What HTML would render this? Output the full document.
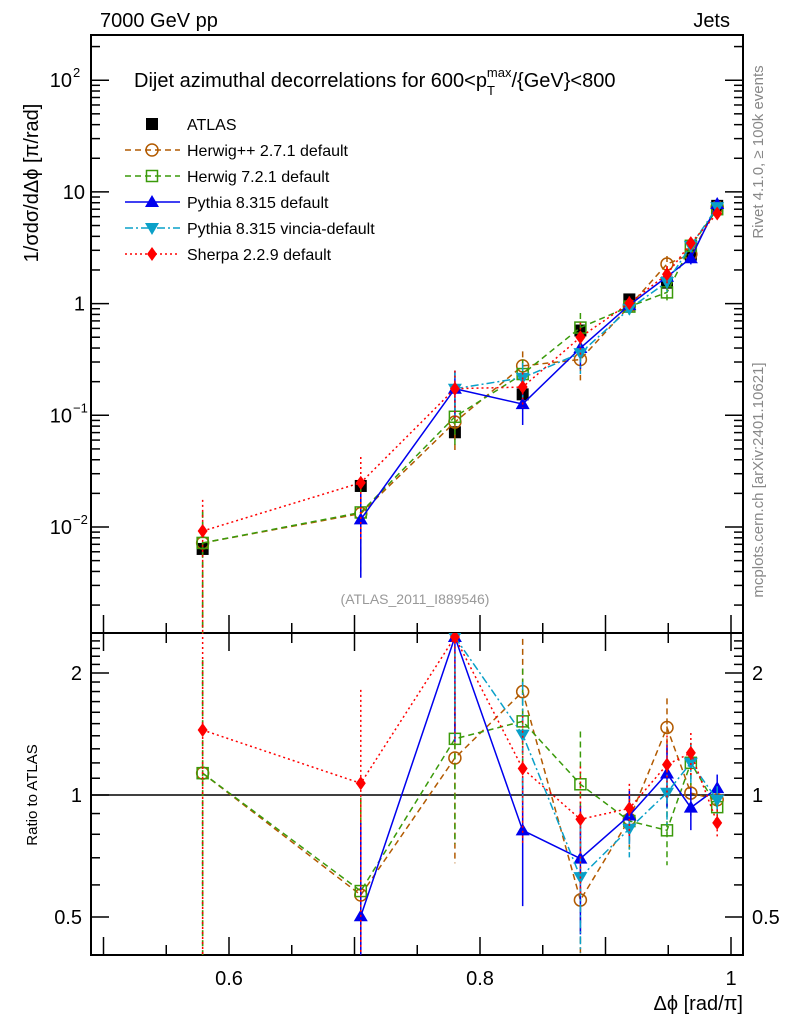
<!DOCTYPE html>
<html><head><meta charset="utf-8"><style>
html,body{margin:0;padding:0;background:#fff;overflow:hidden;width:786px;height:1024px;}
svg{display:block;overflow:hidden;font-family:"Liberation Sans",sans-serif;}
</style></head><body>
<svg id="c" width="786" height="1024" xmlns="http://www.w3.org/2000/svg"></svg>
<script>
const xs=[0.579,0.705,0.780,0.834,0.880,0.919,0.949,0.968,0.989];
const atlas=[0.00636,0.0233,0.0705,0.154,0.574,1.09,1.54,2.74,7.5];
const herwigpp=[0.0072,0.0132,0.087,0.277,0.316,0.95,2.26,2.77,7.3];
const herwig7=[0.0072,0.0135,0.097,0.234,0.61,0.94,1.26,3.29,7.0];
const pythia=[null,0.0117,0.173,0.126,0.40,0.97,1.74,2.55,7.8];
const vincia=[null,null,0.173,0.217,0.36,0.90,1.56,3.29,7.3];
const sherpa=[0.0092,0.0249,0.173,0.179,0.50,1.01,1.83,3.48,6.4];
const mcErr=[0.9,0.7,0.45,0.35,0.35,0.15,0.18,0.12,0.08];
const xTicks=[0.6,0.8,1];
const xTickLabels=["0.6","0.8","1"];
const ratioTicks=[0.5,1,2];
const ratioTickLabels=["0.5","1","2"];

const L=91,R=743,T=35,MB=633,RB=955;
const sx=v=>229+(v-0.6)*1255;
const syM=v=>527-(Math.log10(v)+2)*111.7;
const syR=v=>795-Math.log2(v)*122;
const svg=document.getElementById('c');
const NS='http://www.w3.org/2000/svg';
function mk(t,a,p){const e=document.createElementNS(NS,t);for(const k in a)e.setAttribute(k,a[k]);(p||svg).appendChild(e);return e;}
function txt(s,x,y,o){const e=mk('text',Object.assign({x:x,y:y,'font-size':20},o||{}));e.textContent=s;return e;}

const fm=mk('rect',{x:L,y:T,width:R-L,height:MB-T,fill:'none',stroke:'#000','stroke-width':2});

const fr=mk('rect',{x:L,y:MB,width:R-L,height:RB-MB,fill:'none',stroke:'#000','stroke-width':2});


for(let v=0.5;v<=1.001;v+=0.05){const px=sx(v);if(px<L||px>R)continue;
 const maj=Math.abs(v*10-Math.round(v*10))<1e-6;const h=maj?18:10;
 mk('line',{x1:px,x2:px,y1:RB,y2:RB-h,stroke:'#000','stroke-width':1.5});
 mk('line',{x1:px,x2:px,y1:MB,y2:MB-h,stroke:'#000','stroke-width':1.5});
 mk('line',{x1:px,x2:px,y1:MB,y2:MB+h,stroke:'#000','stroke-width':1.5});}
xTicks.forEach((v,i)=>{const t=txt(xTickLabels[i],sx(v),985,{'text-anchor':'middle'});
 });

for(let d=-3;d<=2;d++){for(let m=1;m<10;m++){const v=m*Math.pow(10,d);const py=syM(v);if(py<T||py>MB)continue;
 const h=m==1?18:9;
 mk('line',{x1:L,x2:L+h,y1:py,y2:py,stroke:'#000','stroke-width':1.5});
 mk('line',{x1:R,x2:R-h,y1:py,y2:py,stroke:'#000','stroke-width':1.5});}}
const ylab=[[2,'10','2'],[1,'10',''],[0,'1',''],[-1,'10','−1'],[-2,'10','−2']];
ylab.forEach(a=>{const py=syM(Math.pow(10,a[0]));
 const g=mk('text',{x:a[2]?72:85,y:py+7,'text-anchor':'end','font-size':20});g.textContent=a[1];
 
 if(a[2]){const sup=mk('text',{x:73,y:py-3,'font-size':13});sup.textContent=a[2];}});

for(let v=0.4;v<=2.5;v+=0.1){const py=syR(v);if(py<MB||py>RB)continue;
 const maj=[0.5,1,2].some(q=>Math.abs(q-v)<1e-6);const h=maj?18:9;
 mk('line',{x1:L,x2:L+h,y1:py,y2:py,stroke:'#000','stroke-width':1.5});
 mk('line',{x1:R,x2:R-h,y1:py,y2:py,stroke:'#000','stroke-width':1.5});}
ratioTicks.forEach((v,i)=>{const a=txt(ratioTickLabels[i],82,syR(v)+7,{'text-anchor':'end'});
 
 const b=txt(ratioTickLabels[i],752,syR(v)+7);
 });
mk('line',{x1:L,x2:R,y1:syR(1),y2:syR(1),stroke:'#000','stroke-width':1.5});

const defs=mk('defs',{});
const c1=mk('clipPath',{id:'cm'},defs);mk('rect',{x:L,y:T,width:R-L,height:MB-T},c1);
const c2=mk('clipPath',{id:'cr'},defs);mk('rect',{x:L,y:MB,width:R-L,height:RB-MB},c2);
const gM=mk('g',{'clip-path':'url(#cm)'});const gR=mk('g',{'clip-path':'url(#cr)'});

function marker(g,type,x,y,col){
 if(type=='sq')return mk('rect',{x:x-6,y:y-6,width:12,height:12,fill:col},g);
 if(type=='circ')return mk('circle',{cx:x,cy:y,r:6,fill:'none',stroke:col,'stroke-width':1.5},g);
 if(type=='osq')return mk('rect',{x:x-5.5,y:y-5.5,width:11,height:11,fill:'none',stroke:col,'stroke-width':1.5},g);
 if(type=='tri')return mk('path',{d:`M${x},${y-7}L${x+7},${y+5}L${x-7},${y+5}Z`,fill:col},g);
 if(type=='itri')return mk('path',{d:`M${x},${y+7}L${x+7},${y-5}L${x-7},${y-5}Z`,fill:col},g);
 if(type=='dia')return mk('path',{d:`M${x},${y-7}L${x+5},${y}L${x},${y+7}L${x-5},${y}Z`,fill:col},g);
}
const series=[
 {name:'herwigpp',d:herwigpp,col:'#b25a00',dash:'6,4',m:'circ',lbl:'Herwig++ 2.7.1 default'},
 {name:'herwig7',d:herwig7,col:'#3a9a0a',dash:'6,4',m:'osq',lbl:'Herwig 7.2.1 default'},
 {name:'pythia',d:pythia,col:'#0000ee',dash:'',m:'tri',lbl:'Pythia 8.315 default'},
 {name:'vincia',d:vincia,col:'#0aa0c8',dash:'8,3,2,3',m:'itri',lbl:'Pythia 8.315 vincia-default'},
 {name:'sherpa',d:sherpa,col:'#ff0000',dash:'2,3',m:'dia',lbl:'Sherpa 2.2.9 default'}];

atlas.forEach((v,i)=>{const x=sx(xs[i]),y=syM(v);
 mk('line',{x1:x,x2:x,y1:syM(v*1.12),y2:syM(v/1.12),stroke:'#000','stroke-width':1.5},gM);
 const m=marker(gM,'sq',x,y,'#000');});

series.forEach(s=>{
 let pm='',pr='';
 s.d.forEach((v,i)=>{if(v==null)return;const x=sx(xs[i]);const r=v/atlas[i];
  pm+=(pm?'L':'M')+x+','+syM(v);pr+=(pr?'L':'M')+x+','+syR(r);});
 const lm=mk('path',{d:pm,fill:'none',stroke:s.col,'stroke-width':1.5,'stroke-dasharray':s.dash},gM);
 
 const lr=mk('path',{d:pr,fill:'none',stroke:s.col,'stroke-width':1.5,'stroke-dasharray':s.dash},gR);
 
 s.d.forEach((v,i)=>{if(v==null)return;const x=sx(xs[i]);const r=v/atlas[i];const e=mcErr[i];
  mk('line',{x1:x,x2:x,y1:syM(v*(1+e)),y2:syM(Math.max(v*(1-e),1e-5)),stroke:s.col,'stroke-width':1.5,'stroke-dasharray':s.dash},gM);
  mk('line',{x1:x,x2:x,y1:syR(r*(1+e)),y2:syR(Math.max(r*(1-e),0.01)),stroke:s.col,'stroke-width':1.5,'stroke-dasharray':s.dash},gR);
  const a=marker(gM,s.m,x,syM(v),s.col);
  const b=marker(gR,s.m,x,syR(r),s.col);});
});

const lg=mk('g',{});
marker(lg,'sq',152,124,'#000');
const at=mk('text',{x:187,y:130,'font-size':16},lg);at.textContent='ATLAS';

series.forEach((s,i)=>{const y=150+i*26;
 mk('line',{x1:125,x2:180,y1:y,y2:y,stroke:s.col,'stroke-width':1.5,'stroke-dasharray':s.dash},lg);
 marker(lg,s.m,152,y,s.col);
 const t=mk('text',{x:187,y:y+6,'font-size':16},lg);t.textContent=s.lbl;
 });

let t=txt('7000 GeV pp',100,27);
t=txt('Jets',730,27,{'text-anchor':'end'});
t=mk('text',{x:134,y:87,'font-size':20});t.innerHTML='Dijet azimuthal decorrelations for 600&lt;p<tspan font-size="13" dy="8">T</tspan><tspan font-size="13" dy="-18" dx="-8">max</tspan><tspan dy="10">/{GeV}&lt;800</tspan>';

t=txt('(ATLAS_2011_I889546)',415,604,{'font-size':14,fill:'#999','text-anchor':'middle'});
t=txt('1/σdσ/dΔϕ [π/rad]',38,183,{'text-anchor':'middle',transform:'rotate(-90 38 183)'});
t=txt('Ratio to ATLAS',37,795,{'font-size':15,'text-anchor':'middle',transform:'rotate(-90 37 795)'});
t=txt('Δϕ [rad/π]',743,1010,{'text-anchor':'end'});
t=txt('Rivet 4.1.0, ≥ 100k events',763,152,{'font-size':15,fill:'#888','text-anchor':'middle',transform:'rotate(-90 763 152)'});
t=txt('mcplots.cern.ch [arXiv:2401.10621]',763,480,{'font-size':15,fill:'#888','text-anchor':'middle',transform:'rotate(-90 763 480)'});
</script>
</body></html>
